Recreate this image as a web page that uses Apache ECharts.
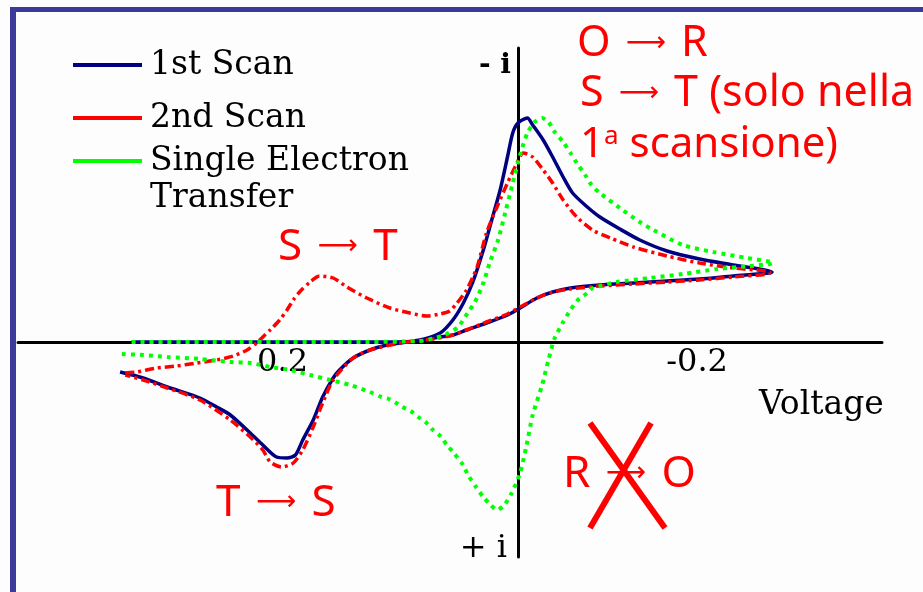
<!DOCTYPE html>
<html>
<head>
<meta charset="utf-8">
<script src="https://cdn.jsdelivr.net/npm/echarts@6/dist/echarts.min.js"></script>
<style>
  html, body { margin: 0; padding: 0; background: #fdfdfd; }
  #chart { width: 923px; height: 592px; }
</style>
</head>
<body>
<div id="chart"></div>
<script>
// Cyclic voltammogram: [voltage (V), current (arb. units, cathodic negative)]
const firstScan = [
  [0.368, 0], [0.303, 0], [0.208, 0], [0.122, 0], [0.103, -0.05], [0.089, -0.3],
  [0.074, -0.9], [0.062, -2.2], [0.052, -3.9], [0.043, -6.0], [0.033, -9.2],
  [0.025, -12.2], [0.017, -15.2], [0.010, -18.5], [0.005, -20.9], [0.000, -21.9],
  [-0.009, -22.4], [-0.014, -21.7], [-0.024, -20.2], [-0.033, -18.5], [-0.043, -16.5],
  [-0.052, -14.9], [-0.066, -13.5], [-0.078, -12.5], [-0.097, -11.3], [-0.116, -10.2],
  [-0.142, -9.1], [-0.173, -8.3], [-0.205, -7.7], [-0.242, -7.0],
  [-0.240, -6.9], [-0.205, -6.6], [-0.173, -6.3], [-0.142, -6.1], [-0.110, -5.9],
  [-0.078, -5.7], [-0.050, -5.4], [-0.033, -5.0], [-0.018, -4.4], [-0.002, -3.4],
  [0.010, -2.7], [0.030, -1.9], [0.049, -1.2], [0.062, -0.7], [0.081, -0.4],
  [0.112, 0.1], [0.125, 0.3], [0.141, 0.8], [0.157, 1.6], [0.170, 2.8], [0.176, 3.6],
  [0.186, 5.5], [0.195, 7.8], [0.205, 9.8], [0.212, 11.3], [0.220, 11.6], [0.230, 11.5],
  [0.243, 10.3], [0.255, 9.1], [0.274, 7.3], [0.287, 6.5], [0.303, 5.6], [0.334, 4.5],
  [0.357, 3.6], [0.379, 3.0]
];

const secondScan = [
  [0.374, 3.1], [0.363, 3.0], [0.344, 2.6], [0.325, 2.4], [0.306, 2.1], [0.287, 1.8],
  [0.271, 1.4], [0.258, 0.8], [0.249, 0.1], [0.243, -0.5], [0.236, -1.2], [0.227, -2.2],
  [0.220, -3.2], [0.214, -4.2], [0.208, -5.0], [0.198, -6.0], [0.189, -6.6], [0.176, -6.4],
  [0.163, -5.5], [0.144, -4.4], [0.122, -3.4], [0.103, -2.9], [0.087, -2.6], [0.074, -2.8],
  [0.065, -3.1], [0.058, -3.9], [0.049, -5.2], [0.039, -7.5], [0.030, -10.9], [0.020, -13.5],
  [0.010, -15.9], [0.001, -17.9], [-0.005, -18.9], [-0.014, -18.5], [-0.024, -17.2],
  [-0.033, -15.9], [-0.043, -14.2], [-0.056, -12.5], [-0.071, -11.2], [-0.088, -10.4],
  [-0.110, -9.5], [-0.142, -8.6], [-0.173, -7.9], [-0.205, -7.4], [-0.240, -7.0],
  [-0.238, -6.8], [-0.205, -6.5], [-0.173, -6.2], [-0.142, -6.0], [-0.110, -5.8],
  [-0.078, -5.6], [-0.050, -5.3], [-0.033, -5.0], [-0.018, -4.4], [-0.002, -3.5],
  [0.010, -2.8], [0.030, -2.0], [0.049, -1.2], [0.062, -0.7], [0.081, -0.3], [0.112, 0.1],
  [0.141, 0.8], [0.157, 1.6], [0.176, 3.8], [0.186, 6.1], [0.195, 8.5], [0.205, 10.8],
  [0.214, 12.1], [0.225, 12.5], [0.236, 12.0], [0.243, 10.8], [0.255, 9.5], [0.274, 7.8],
  [0.303, 5.8], [0.334, 4.6], [0.357, 3.8], [0.374, 3.3]
];

const singleTransfer = [
  [0.368, 0], [0.255, 0], [0.160, 0], [0.093, -0.1], [0.079, -0.4], [0.068, -0.8],
  [0.057, -1.5], [0.048, -2.9], [0.041, -4.0], [0.033, -5.9], [0.027, -7.9], [0.019, -10.2],
  [0.012, -13.0], [0.005, -15.9], [-0.002, -18.7], [-0.009, -20.9], [-0.016, -22.0],
  [-0.023, -22.4], [-0.029, -22.0], [-0.035, -21.0], [-0.043, -20.0], [-0.050, -18.9],
  [-0.056, -17.9], [-0.064, -16.7], [-0.070, -15.7], [-0.078, -14.9], [-0.097, -13.4],
  [-0.116, -12.0], [-0.129, -11.2], [-0.157, -9.7], [-0.186, -9.0], [-0.218, -8.4],
  [-0.243, -7.9],
  [-0.240, -7.8], [-0.221, -7.6], [-0.190, -7.3], [-0.157, -6.8], [-0.126, -6.4],
  [-0.094, -6.0], [-0.078, -5.6], [-0.071, -5.4], [-0.066, -4.9], [-0.057, -4.2],
  [-0.050, -3.2], [-0.043, -2.0], [-0.035, -0.4], [-0.029, 1.8], [-0.023, 4.3],
  [-0.014, 7.3], [-0.008, 10.4], [-0.002, 13.1], [0.006, 15.1], [0.013, 16.3],
  [0.020, 16.8], [0.026, 16.3], [0.033, 15.5], [0.040, 14.5], [0.047, 13.4], [0.053, 12.2],
  [0.061, 11.1], [0.067, 10.4], [0.074, 9.4], [0.082, 8.7], [0.088, 8.0], [0.095, 7.5],
  [0.102, 6.9], [0.110, 6.5], [0.116, 6.1], [0.123, 5.7], [0.130, 5.5], [0.141, 5.0],
  [0.160, 4.3], [0.179, 3.8], [0.198, 3.3], [0.217, 2.8], [0.236, 2.5], [0.255, 2.1],
  [0.274, 2.0], [0.303, 1.7], [0.334, 1.5], [0.357, 1.3], [0.379, 1.2]
];

const seriesNames = ['1st Scan', '2nd Scan', 'Single Electron Transfer'];
const voltageTicks = [0.2, -0.2];

const serif = 'DejaVu Serif';
const hand = 'Noto Sans';
const red = '#ff0000';

// Grid box (px) and current range; the voltage axis is pulled up onto i = 0.
const gridTop = 48, gridBottom = 35, chartHeight = 592;
const currentMin = -29.4, currentMax = 21.5;
const plotHeight = chartHeight - gridTop - gridBottom;
const zeroOffset = -plotHeight * currentMax / (currentMax - currentMin);

const chart = echarts.init(document.getElementById('chart'), null, { renderer: 'canvas' });

function legendFor(name, top, text) {
  return {
    data: [name],
    left: 73,
    top: top,
    padding: 0,
    orient: 'vertical',
    icon: 'rect',
    itemWidth: 69,
    itemHeight: 4,
    itemStyle: { borderWidth: 0 },
    selectedMode: false,
    formatter: () => text,
    textStyle: { fontFamily: serif, fontSize: 33, color: '#000', lineHeight: 37, padding: [8, 0, 0, 3] }
  };
}

// long thin arrow used inside the reaction labels
const arrowRich = { arr: { fontFamily: 'DejaVu Sans', fontSize: 28, fill: red, padding: [0, 4, 0, 4] } };

function reaction(text, x, y, size) {
  return {
    type: 'text',
    style: { text: text, x: x, y: y, align: 'left', verticalAlign: 'middle',
      fontFamily: hand, fontSize: size, fill: red, rich: arrowRich }
  };
}

chart.setOption({
  backgroundColor: '#fdfdfd',
  animation: false,
  grid: { left: 18, right: 41, top: gridTop, bottom: gridBottom },
  xAxis: {
    type: 'value',
    inverse: true,
    min: -0.3467,
    max: 0.4762,
    offset: zeroOffset,
    splitLine: { show: false },
    axisTick: { show: false },
    axisLine: { onZero: false, lineStyle: { color: '#000', width: 3 } },
    axisLabel: {
      customValues: voltageTicks,
      formatter: v => String(v),
      align: 'right',
      margin: 5,
      fontFamily: serif,
      fontSize: 32,
      color: '#000'
    }
  },
  yAxis: {
    type: 'value',
    inverse: true,
    min: currentMin,
    max: currentMax,
    splitLine: { show: false },
    axisTick: { show: false },
    axisLabel: { show: false },
    axisLine: { onZero: true, lineStyle: { color: '#000', width: 3 } }
  },
  legend: [
    legendFor(seriesNames[0], 42.5, '1st Scan'),
    legendFor(seriesNames[1], 95.5, '2nd Scan'),
    legendFor(seriesNames[2], 101.5, '\nSingle Electron\nTransfer')
  ],
  series: [
    {
      name: seriesNames[0], type: 'line', data: firstScan,
      symbol: 'none', smooth: 0.25, z: 3,
      itemStyle: { color: '#000080' },
      lineStyle: { color: '#000080', width: 3.5 }
    },
    {
      name: seriesNames[1], type: 'line', data: secondScan,
      symbol: 'none', smooth: 0.25, z: 4,
      itemStyle: { color: red },
      lineStyle: { color: red, width: 3.5, type: [9, 4, 3, 4] }
    },
    {
      name: seriesNames[2], type: 'line', data: singleTransfer,
      symbol: 'none', smooth: 0.25, z: 5,
      itemStyle: { color: '#00ff00' },
      lineStyle: { color: '#00ff00', width: 4, type: [4, 5] }
    }
  ],
  graphic: [
    // frame
    { type: 'rect', shape: { x: 10, y: 7, width: 6, height: 585 }, style: { fill: '#3b3b9b' }, z: 100 },
    { type: 'rect', shape: { x: 10, y: 7, width: 913, height: 5 }, style: { fill: '#3b3b9b' }, z: 100 },
    // axis captions
    { type: 'text', style: { text: '- i', x: 511, y: 66, align: 'right', verticalAlign: 'middle',
        fontFamily: serif, fontSize: 28, fontWeight: 'bold', fill: '#000' } },
    { type: 'text', style: { text: '+ i', x: 507, y: 549, align: 'right', verticalAlign: 'middle',
        fontFamily: serif, fontSize: 32, fill: '#000' } },
    { type: 'text', style: { text: 'Voltage', x: 759, y: 405, align: 'left', verticalAlign: 'middle',
        fontFamily: serif, fontSize: 33, fill: '#000' } },
    // process annotations
    reaction('O {arr|\u27F6} R', 577, 44, 43),
    reaction('S {arr|\u27F6} T (solo nella', 580, 94, 43),
    { type: 'text', style: { text: '1{sup|a} scansione)', x: 580, y: 145, align: 'left', verticalAlign: 'middle',
        fontFamily: hand, fontSize: 42, fill: red,
        rich: { sup: { fontFamily: hand, fontSize: 26, fill: red, verticalAlign: 'top' } } } },
    reaction('S {arr|\u27F6} T', 278, 247, 44),
    reaction('T {arr|\u27F6} S', 216, 503, 44),
    reaction('R {arr|\u27F6} O', 563, 474, 44),
    { type: 'line', shape: { x1: 590, y1: 423, x2: 665, y2: 528 }, style: { stroke: red, lineWidth: 6 } },
    { type: 'line', shape: { x1: 651, y1: 423, x2: 590, y2: 528 }, style: { stroke: red, lineWidth: 6 } }
  ]
});
</script>
</body>
</html>
